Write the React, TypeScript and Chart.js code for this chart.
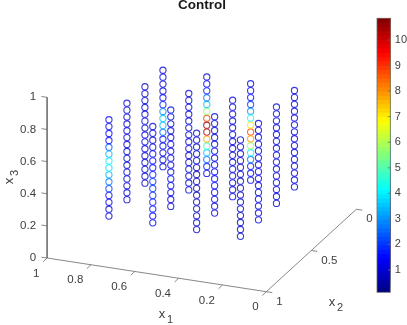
import React, { useEffect, useRef } from "react";
import { Chart, registerables } from "chart.js";

Chart.register(...registerables);

// ---- data ----
const x3Levels = [0.2, 0.243, 0.286, 0.329, 0.371, 0.414, 0.457, 0.5, 0.543, 0.586, 0.629, 0.671, 0.714, 0.757, 0.8];
const x1Levels = [0.8, 0.6, 0.4, 0.2];
const x2Levels = [0.2, 0.4, 0.6, 0.8];

// value along each vertical column, from x3 = 0.2 upward
const v08_02 = [1, 1, 1, 1.2, 1.6, 2.5, 3.4, 3.5, 2.9, 1.8, 1.3, 1.1, 1, 1, 1];
const v06_02 = [1.2, 1.8, 2.5, 3.5, 4.8, 7.8, 10.3, 10.6, 9, 5.8, 3.6, 2.8, 1.8, 1.3, 1.1];
const v04_02 = [1, 1.3, 1.8, 2.8, 4, 5.8, 8, 8.7, 7, 4.4, 3, 2, 1.5, 1.2, 1];
const v02_02 = [1, 1, 1, 1, 1, 1.1, 1.1, 1.1, 1.1, 1.1, 1, 1, 1, 1, 1];
const v08_04 = [0.9, 0.9, 0.9, 1, 1, 1, 1, 1, 1, 1, 1, 1, 1, 0.9, 0.9];
const v06_04 = [1, 1, 1, 1, 1, 1, 1, 1, 1, 1, 1, 1, 1, 1, 1];
const v04_04 = [1, 1, 1, 1, 1.1, 1.1, 1.1, 1.1, 1.1, 1, 1, 1, 1, 1, 1];
const v02_04 = [1, 1, 1, 1, 1, 1, 1, 1, 1, 1, 1, 1, 1, 1, 1];
const v08_06 = [1, 1, 1, 1, 1, 1, 1.1, 1.1, 1.1, 1, 1, 1, 1, 1, 1];
const v06_06 = [1, 1.1, 1.1, 1.2, 1.2, 1.2, 1.2, 1.2, 1.2, 1.2, 1.1, 1.1, 1, 1, 1];
const v04_06 = [1.1, 1.1, 1.2, 1.2, 1.3, 1.3, 1.3, 1.2, 1.2, 1.2, 1.1, 1.1, 1, 1, 1];
const v02_06 = [1, 1, 1.1, 1.1, 1.1, 1.2, 1.2, 1.2, 1.1, 1.1, 1.1, 1, 1, 1, 1];
const v08_08 = [1, 1.1, 1.3, 1.5, 2, 2.8, 3.4, 3.9, 4, 3.4, 2.4, 1.6, 1.5, 1.3, 1.3];
const v06_08 = [1.2, 1.3, 1.5, 1.7, 1.9, 2, 2, 1.8, 1.5, 1.3, 1.2, 1.1, 1.1, 1, 1];
const v04_08 = [0.9, 0.8, 0.8, 0.7, 0.7, 0.7, 0.7, 0.7, 0.7, 0.8, 0.8, 0.8, 0.9, 0.9, 0.9];
const v02_08 = [0.9, 0.9, 0.8, 0.8, 0.8, 0.8, 0.8, 0.7, 0.7, 0.8, 0.8, 0.8, 0.9, 0.9, 0.9];

const columnTable = [
  [v08_02, v06_02, v04_02, v02_02],
  [v08_04, v06_04, v04_04, v02_04],
  [v08_06, v06_06, v04_06, v02_06],
  [v08_08, v06_08, v04_08, v02_08],
];

const x1Ticks = [1, 0.8, 0.6, 0.4, 0.2, 0];
const x2Ticks = [1, 0.5, 0];
const x3Ticks = [0, 0.2, 0.4, 0.6, 0.8, 1];
const colorTicks = [1, 2, 3, 4, 5, 6, 7, 8, 9, 10];
const colorMin = 0.127;
const colorMax = 10.85;
const colorLevels = 64;

// ---- view (affine projection of the 3-D box onto the canvas scale) ----
const project = (x1: number, x2: number, x3: number) => ({
  x: 266.3 - 219.2 * x1 + 90 * (1 - x2),
  y: 291.7 - 33.7 * x1 - 82.4 * (1 - x2) - 160.7 * x3,
});

const jet = (t: number, alpha = 1) => {
  const c = (v: number) => Math.round(255 * Math.max(0, Math.min(1, v)));
  const r = 1.5 - Math.abs(4 * t - 3);
  const g = 1.5 - Math.abs(4 * t - 2);
  const b = 1.5 - Math.abs(4 * t - 1);
  return `rgba(${c(r)},${c(g)},${c(b)},${alpha})`;
};
const levelColor = (i: number, alpha = 1) => jet((i + 0.5) / colorLevels, alpha);
const valueColor = (v: number) => {
  const i = Math.floor(((v - colorMin) / (colorMax - colorMin)) * colorLevels);
  return levelColor(Math.max(0, Math.min(colorLevels - 1, i)), 0.78);
};

const FONT = '"Liberation Sans", Arial, sans-serif';
const TEXT = "#404040";
const AXIS = "#6a6a6a";

const textPlugin = {
  id: "boxText",
  afterDraw(chart: any) {
    const ctx = chart.ctx;
    ctx.save();
    ctx.fillStyle = TEXT;
    ctx.textBaseline = "middle";
    ctx.font = `11.5px ${FONT}`;
    ctx.textAlign = "right";
    x1Ticks.forEach((t) => {
      const p = project(t, 1, 0);
      ctx.fillText(String(t), p.x - 7.6, p.y + 15.5);
    });
    x3Ticks.forEach((t) => {
      const p = project(1, 1, t);
      ctx.fillText(String(t), p.x - 11, p.y);
    });
    ctx.textAlign = "left";
    x2Ticks.forEach((t) => {
      const p = project(0, t, 0);
      ctx.fillText(String(t), p.x + 10, p.y + 10);
    });
    // title
    ctx.textAlign = "center";
    ctx.fillStyle = "#1a1a1a";
    ctx.font = `bold 13.5px ${FONT}`;
    ctx.fillText("Control", 202, 5.5);
    ctx.fillStyle = TEXT;
    // axis labels
    const label = (sub: string, x: number, y: number, sx: number, sy: number) => {
      ctx.font = `13px ${FONT}`;
      ctx.fillText("x", x, y);
      ctx.font = `11px ${FONT}`;
      ctx.fillText(sub, x + sx, y + sy);
    };
    label("1", 162, 314, 8, 6);
    label("2", 332, 302, 8, 6);
    ctx.translate(9, 177);
    ctx.rotate(-Math.PI / 2);
    label("3", -4, 0, 8, 6);
    ctx.restore();
  },
};

const colorbarPlugin = {
  id: "colorbarFrame",
  afterDraw(chart: any) {
    const ctx = chart.ctx;
    const { left, right, top, bottom } = chart.chartArea;
    const scale = chart.scales.y;
    ctx.save();
    ctx.strokeStyle = AXIS;
    ctx.lineWidth = 0.8;
    ctx.strokeRect(left, top, right - left, bottom - top);
    colorTicks.forEach((t) => {
      const y = scale.getPixelForValue(t);
      ctx.beginPath();
      ctx.moveTo(right, y);
      ctx.lineTo(right - 2.5, y);
      ctx.stroke();
    });
    ctx.restore();
  },
};

export default function App() {
  const boxRef = useRef<HTMLCanvasElement>(null);
  const barRef = useRef<HTMLCanvasElement>(null);

  useEffect(() => {
    const points: { x: number; y: number }[] = [];
    const colors: string[] = [];
    x2Levels.forEach((x2, r) => {
      x1Levels.forEach((x1, c) => {
        x3Levels.forEach((x3, k) => {
          points.push(project(x1, x2, x3));
          colors.push(valueColor(columnTable[r][c][k]));
        });
      });
    });

    const gap = { x: NaN, y: NaN };
    const axisLine: { x: number; y: number }[] = [
      project(1, 1, 1),
      project(1, 1, 0),
      project(0, 1, 0),
      project(0, 0, 0),
      gap,
    ];
    x1Ticks.forEach((t) => {
      const p = project(t, 1, 0);
      axisLine.push(p, { x: p.x - 4, y: p.y + 3.8 }, gap);
    });
    x2Ticks.forEach((t) => {
      const p = project(0, t, 0);
      axisLine.push(p, { x: p.x + 6, y: p.y + 0.9 }, gap);
    });
    x3Ticks.forEach((t) => {
      const p = project(1, 1, t);
      axisLine.push(p, { x: p.x - 5.7, y: p.y - 0.8 }, gap);
    });

    const box = new Chart(boxRef.current!, {
      type: "scatter",
      data: {
        datasets: [
          {
            label: "Control",
            data: points,
            pointRadius: 3.1,
            pointHoverRadius: 3.1,
            pointBorderWidth: 1.1,
            pointBorderColor: colors,
            pointBackgroundColor: "rgba(0,0,0,0)",
            showLine: false,
          },
          {
            label: "axes",
            data: axisLine,
            showLine: true,
            spanGaps: false,
            pointRadius: 0,
            borderWidth: 0.8,
            borderColor: AXIS,
          },
        ],
      },
      options: {
        animation: false,
        responsive: false,
        layout: { padding: 0, autoPadding: false },
        plugins: { legend: { display: false }, tooltip: { enabled: false } },
        scales: {
          x: { type: "linear", min: 0, max: 407, display: false },
          y: { type: "linear", min: 0, max: 325, reverse: true, display: false },
        },
      },
      plugins: [textPlugin],
    } as any);

    const step = (colorMax - colorMin) / colorLevels;
    const levelIdx = Array.from({ length: colorLevels }, (_, i) => colorLevels - 1 - i);
    const bar = new Chart(barRef.current!, {
      type: "bar",
      data: {
        labels: [""],
        datasets: levelIdx.map((i) => ({
          label: String(i),
          data: [[colorMin + i * step, colorMax]],
          backgroundColor: levelColor(i),
          borderWidth: 0,
          barPercentage: 1,
          categoryPercentage: 1,
          grouped: false,
        })),
      },
      options: {
        animation: false,
        responsive: false,
        layout: { padding: { left: 377, top: 18.3, bottom: 32.7, right: 0 }, autoPadding: false },
        plugins: { legend: { display: false }, tooltip: { enabled: false } },
        scales: {
          x: { display: false },
          y: {
            type: "linear",
            position: "right",
            min: colorMin,
            max: colorMax,
            afterFit: (s: any) => {
              s.width = 16.7;
            },
            afterBuildTicks: (s: any) => {
              s.ticks = colorTicks.map((value) => ({ value }));
            },
            border: { display: false },
            grid: { display: false, drawTicks: false },
            ticks: {
              color: TEXT,
              font: { family: FONT, size: 11 },
              padding: 4.5,
              autoSkip: false,
              maxRotation: 0,
              callback: (v: any) => String(v),
            },
          },
        },
      },
      plugins: [colorbarPlugin],
    } as any);

    return () => {
      box.destroy();
      bar.destroy();
    };
  }, []);

  const style: React.CSSProperties = { position: "absolute", left: 0, top: 0, display: "block" };
  return (
    <div style={{ position: "absolute", left: 0, top: 0, width: 407, height: 325, background: "#fff" }}>
      <canvas ref={boxRef} width={407} height={325} style={style} />
      <canvas ref={barRef} width={407} height={325} style={style} />
    </div>
  );
}
